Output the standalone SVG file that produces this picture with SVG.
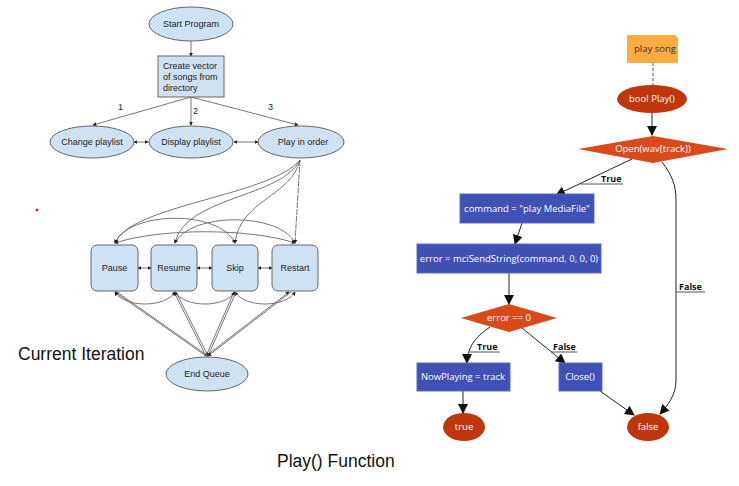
<svg xmlns="http://www.w3.org/2000/svg" width="739" height="486" viewBox="0 0 739 486">
<style>
.lt{font-family:"Liberation Sans",Arial,sans-serif;font-size:9px;fill:#222}
.ln{fill:#CFE2F3;stroke:#666;stroke-width:1}
.lc{fill:none;stroke:#666;stroke-width:0.9}
.rt{font-family:"Open Sans","Noto Sans",sans-serif;font-size:9.5px;fill:#fff}
.rl{font-family:"Open Sans","Noto Sans",sans-serif;font-size:9px;font-weight:bold;fill:#111}
.blue{fill:#3F51B5;stroke:#5C6BC0;stroke-width:1}
.rc{fill:none;stroke:#222;stroke-width:1}
.big{font-family:"Liberation Sans",Arial,sans-serif;font-size:17.5px;fill:#111}
</style>
<defs>
<marker id="sa" viewBox="0 0 6 6" refX="5" refY="3" markerWidth="4" markerHeight="4" orient="auto-start-reverse" markerUnits="userSpaceOnUse"><path d="M0,0 L6,3 L0,6 z" fill="#222"/></marker>
<marker id="ba" viewBox="0 0 10 10" refX="9" refY="5" markerWidth="10" markerHeight="10" orient="auto" markerUnits="userSpaceOnUse"><path d="M0,0 L10,5 L0,10 z" fill="#111"/></marker>
</defs>
<rect width="739" height="486" fill="#fff"/>

<g id="connectors">
<!-- left -->
<line class="lc" x1="191" y1="41" x2="191" y2="56" marker-end="url(#sa)"/>
<line class="lc" x1="191" y1="97" x2="93" y2="125" marker-end="url(#sa)"/>
<line class="lc" x1="191" y1="97" x2="191" y2="125" marker-end="url(#sa)"/>
<line class="lc" x1="191" y1="97" x2="298" y2="125" marker-end="url(#sa)"/>
<line class="lc" x1="134" y1="142" x2="148" y2="142" marker-start="url(#sa)" marker-end="url(#sa)"/>
<line class="lc" x1="234" y1="142" x2="258" y2="142" marker-start="url(#sa)" marker-end="url(#sa)"/>
<path class="lc" d="M300,160 C270,196 130,205 115,243" marker-end="url(#sa)"/>
<path class="lc" d="M300,160 C282,198 185,196 175,243" marker-end="url(#sa)"/>
<path class="lc" d="M300,160 C292,196 240,200 235,243" marker-end="url(#sa)"/>
<line class="lc" x1="300" y1="160" x2="295" y2="243" stroke-dasharray="6,1" marker-end="url(#sa)"/>
<path class="lc" d="M115,243 C130,210 220,210 235,243" marker-start="url(#sa)" marker-end="url(#sa)"/>
<path class="lc" d="M175,243 C190,212 280,212 295,243" marker-start="url(#sa)" marker-end="url(#sa)"/>
<path class="lc" d="M115,243 C160,228 250,228 295,243" marker-start="url(#sa)" marker-end="url(#sa)"/>
<line class="lc" x1="138" y1="268" x2="151" y2="268" marker-start="url(#sa)" marker-end="url(#sa)"/>
<line class="lc" x1="197" y1="268" x2="212" y2="268" marker-start="url(#sa)" marker-end="url(#sa)"/>
<line class="lc" x1="258" y1="268" x2="272" y2="268" marker-start="url(#sa)" marker-end="url(#sa)"/>
<path class="lc" d="M115,292 C125,308 165,308 175,292" marker-start="url(#sa)" marker-end="url(#sa)"/>
<path class="lc" d="M175,292 C185,308 225,308 235,292" marker-start="url(#sa)" marker-end="url(#sa)"/>
<path class="lc" d="M235,292 C245,308 285,308 295,292" marker-start="url(#sa)" marker-end="url(#sa)"/>
<line class="lc" x1="206" y1="356" x2="115" y2="292" marker-end="url(#sa)"/>
<line class="lc" x1="208" y1="356" x2="117" y2="292" marker-start="url(#sa)"/>
<line class="lc" x1="206" y1="356" x2="174" y2="292" marker-end="url(#sa)"/>
<line class="lc" x1="208" y1="356" x2="176" y2="292" marker-start="url(#sa)"/>
<line class="lc" x1="206" y1="356" x2="234" y2="292" marker-end="url(#sa)"/>
<line class="lc" x1="208" y1="356" x2="236" y2="292" marker-start="url(#sa)"/>
<line class="lc" x1="206" y1="356" x2="289" y2="292" marker-end="url(#sa)"/>
<line class="lc" x1="208" y1="356" x2="291" y2="292" marker-start="url(#sa)"/>
<!-- right -->
<line x1="653" y1="63" x2="653" y2="85" stroke="#555" stroke-width="1" stroke-dasharray="3,2"/>
<line class="rc" x1="652" y1="113" x2="652" y2="135" marker-end="url(#ba)"/>
<line class="rc" x1="632" y1="159" x2="556" y2="195" marker-end="url(#ba)"/>
<line x1="580" y1="184" x2="623" y2="184" stroke="#555" stroke-width="1"/>
<line class="rc" x1="522" y1="223" x2="515" y2="244" marker-end="url(#ba)"/>
<line class="rc" x1="509" y1="273" x2="509" y2="304" marker-end="url(#ba)"/>
<path class="rc" d="M490,327 C475,337 467,348 467,363" marker-end="url(#ba)"/>
<line x1="469" y1="352" x2="500" y2="352" stroke="#555" stroke-width="1"/>
<line class="rc" x1="522" y1="328" x2="565" y2="363" marker-end="url(#ba)"/>
<line x1="551" y1="352" x2="577" y2="352" stroke="#555" stroke-width="1"/>
<line class="rc" x1="463" y1="391" x2="463" y2="413" marker-end="url(#ba)"/>
<line class="rc" x1="600" y1="391" x2="634" y2="415" marker-end="url(#ba)"/>
<path class="rc" d="M662,162 C672,175 676,185 676,200 L676,380 C676,395 668,405 660,414" marker-end="url(#ba)"/>
<line x1="676" y1="292" x2="705" y2="292" stroke="#555" stroke-width="1"/>
</g>

<g id="start"><ellipse class="ln" cx="191" cy="24" rx="42" ry="17"/><text class="lt" x="191" y="27" text-anchor="middle">Start Program</text></g>
<g id="create"><rect class="ln" x="158" y="56" width="66" height="41"/><text class="lt" x="163" y="69">Create vector</text><text class="lt" x="163" y="80">of songs from</text><text class="lt" x="163" y="91">directory</text></g>
<g id="labels123"><text class="lt" x="118" y="110">1</text><text class="lt" x="193" y="114">2</text><text class="lt" x="268" y="110">3</text></g>
<g id="change"><ellipse class="ln" cx="92" cy="142" rx="42" ry="16"/><text class="lt" x="92" y="145" text-anchor="middle">Change playlist</text></g>
<g id="display"><ellipse class="ln" cx="191" cy="142" rx="42" ry="16"/><text class="lt" x="191" y="145" text-anchor="middle">Display playlist</text></g>
<g id="play"><ellipse class="ln" cx="301" cy="142" rx="43" ry="16"/><text class="lt" x="303" y="145" text-anchor="middle">Play in order</text></g>
<g id="pause"><rect class="ln" x="91" y="245" width="47" height="46" rx="6"/><text class="lt" x="114.5" y="271" text-anchor="middle">Pause</text></g>
<g id="resume"><rect class="ln" x="151" y="245" width="46" height="46" rx="6"/><text class="lt" x="174" y="271" text-anchor="middle">Resume</text></g>
<g id="skip"><rect class="ln" x="212" y="245" width="46" height="46" rx="6"/><text class="lt" x="235" y="271" text-anchor="middle">Skip</text></g>
<g id="restart"><rect class="ln" x="272" y="245" width="46" height="46" rx="6"/><text class="lt" x="295" y="271" text-anchor="middle">Restart</text></g>
<g id="endqueue"><ellipse class="ln" cx="207" cy="374" rx="41" ry="17"/><text class="lt" x="207" y="377" text-anchor="middle">End Queue</text></g>
<circle cx="37" cy="210" r="1.5" fill="#e02020"/>
<text class="big" x="18" y="360">Current Iteration</text>
<text class="big" x="277" y="467">Play() Function</text>

<g id="playsong"><path d="M627,35 L675,35 L678,38 L678,63 L627,63 z" fill="#FFAB40"/><text x="655" y="52" text-anchor="middle" font-family="Open Sans,Noto Sans,sans-serif" font-size="9.5" fill="#333">play song</text></g>
<g id="boolplay"><ellipse cx="652" cy="99" rx="35" ry="14" fill="#BF360C"/><text class="rt" x="652" y="102" text-anchor="middle">bool Play()</text></g>
<g id="open"><polygon points="578,149 653,136 728,149 653,163" fill="#D84A1B"/><text class="rt" x="653" y="152" text-anchor="middle">Open(wav[track])</text></g>
<text class="rl" x="601" y="182">True</text>
<g id="command"><rect class="blue" x="460" y="194" width="134" height="29"/><text class="rt" x="527" y="212" text-anchor="middle">command = "play MediaFile"</text></g>
<g id="error"><rect class="blue" x="417" y="244" width="184" height="29"/><text class="rt" x="509" y="262" text-anchor="middle">error = mciSendString(command, 0, 0, 0)</text></g>
<g id="errdiamond"><polygon points="461,318 509,304 557,318 509,332" fill="#D84A1B"/><text class="rt" x="509" y="321" text-anchor="middle">error == 0</text></g>
<text class="rl" x="477" y="350">True</text>
<text class="rl" x="553" y="350">False</text>
<text class="rl" x="679" y="290">False</text>
<g id="nowplaying"><rect class="blue" x="417" y="363" width="93" height="28"/><text class="rt" x="463" y="380" text-anchor="middle">NowPlaying = track</text></g>
<g id="close"><rect class="blue" x="559" y="363" width="43" height="28"/><text class="rt" x="580" y="380" text-anchor="middle">Close()</text></g>
<g id="true"><ellipse cx="464" cy="427" rx="21" ry="14" fill="#BF360C"/><text class="rt" x="464" y="430" text-anchor="middle">true</text></g>
<g id="false"><ellipse cx="648" cy="427" rx="21" ry="14" fill="#BF360C"/><text class="rt" x="648" y="430" text-anchor="middle">false</text></g>
</svg>
